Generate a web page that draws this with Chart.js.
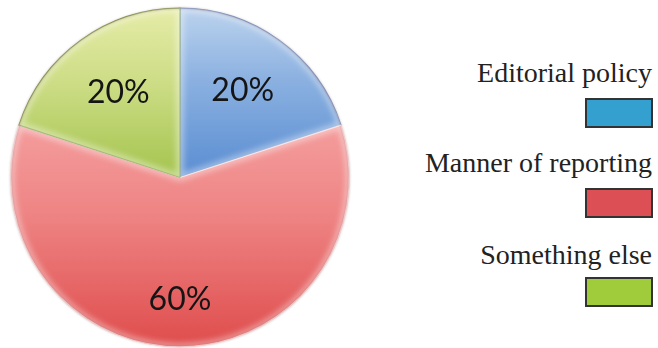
<!DOCTYPE html>
<html>
<head>
<meta charset="utf-8">
<script src="https://cdn.jsdelivr.net/npm/chart.js@4/dist/chart.umd.min.js"></script>
<style>
  html, body { margin: 0; padding: 0; background: #fff; }
  #wrap { position: relative; width: 658px; height: 348px; overflow: hidden; }
  #pieBox { position: absolute; left: 0; top: 0; width: 360px; height: 348px; }
  #legend { position: absolute; right: 5px; top: 0; width: 280px; height: 348px; font-family: "Liberation Serif", serif; color: #222; }
  .lbl { position: absolute; right: 1px; font-size: 28px; line-height: 28px; white-space: nowrap; }
  .sw { position: absolute; right: 0; width: 64px; height: 26px; border: 2px solid #333; }
</style>
</head>
<body>
<div id="wrap">
  <div id="pieBox"><canvas id="pie"></canvas></div>
  <div id="legend"></div>
</div>
<script>
// Survey answers
const categories = ["Editorial policy", "Manner of reporting", "Something else"];
const shares = [20, 60, 20];

// Slice shading stops [position down the pie, colour] and legend swatch colours
const sliceStops = [
  [[0, "#bcd3ee"], [0.22, "#8ab0e0"], [0.5, "#5a8dd2"], [1, "#4a7cc4"]],
  [[0, "#f8b4b4"], [0.35, "#f49c9c"], [0.6, "#ef8585"], [1, "#df4c4c"]],
  [[0, "#e6eca8"], [0.22, "#cddd86"], [0.5, "#a4c44e"], [1, "#94b440"]]
];
const swatchColors = ["#33a0d0", "#dc5055", "#a0cc3c"];

const total = shares.reduce((a, b) => a + b, 0);

function sliceFill(ctx) {
  const chart = ctx.chart;
  const area = chart.chartArea;
  const stops = sliceStops[ctx.dataIndex];
  if (!area) return stops[2][1];
  const g = chart.ctx.createLinearGradient(0, area.top, 0, area.bottom);
  stops.forEach(([p, c]) => g.addColorStop(p, c));
  return g;
}

function arcPath(ctx, p) {
  ctx.beginPath();
  ctx.moveTo(p.x, p.y);
  ctx.arc(p.x, p.y, p.outerRadius, p.startAngle, p.endAngle);
  ctx.closePath();
}

// Soft inner highlight along each slice's edges, for a bevelled look
const sliceBevel = {
  id: "sliceBevel",
  afterDatasetsDraw(chart) {
    const { ctx } = chart;
    const meta = chart.getDatasetMeta(0);
    meta.data.forEach((arc) => {
      const p = arc.getProps(["x", "y", "startAngle", "endAngle", "outerRadius"], true);
      ctx.save();
      arcPath(ctx, p);
      ctx.clip();
      ctx.filter = "blur(3px)";
      ctx.strokeStyle = "rgba(255,255,255,0.45)";
      ctx.lineWidth = 7;
      arcPath(ctx, p);
      ctx.stroke();
      ctx.restore();
    });
    // faint darker outer rim
    const p0 = meta.data[0].getProps(["x", "y", "outerRadius"], true);
    ctx.save();
    ctx.filter = "blur(0.8px)";
    ctx.strokeStyle = "rgba(120,60,60,0.35)";
    ctx.lineWidth = 1.2;
    ctx.beginPath();
    ctx.arc(p0.x, p0.y, p0.outerRadius, 0, Math.PI * 2);
    ctx.stroke();
    ctx.restore();
  }
};

// Percent labels inside each slice
const sliceLabels = {
  id: "sliceLabels",
  afterDatasetsDraw(chart, args, opts) {
    const { ctx } = chart;
    const meta = chart.getDatasetMeta(0);
    ctx.save();
    ctx.font = opts.font;
    ctx.fillStyle = opts.color;
    ctx.textAlign = "center";
    ctx.textBaseline = "middle";
    meta.data.forEach((arc, i) => {
      const p = arc.getProps(["x", "y", "startAngle", "endAngle", "outerRadius"], true);
      const mid = (p.startAngle + p.endAngle) / 2;
      const r = p.outerRadius * opts.radius[i];
      const text = Math.round(shares[i] / total * 100) + "%";
      ctx.fillText(text, p.x + Math.cos(mid) * r, p.y + Math.sin(mid) * r);
    });
    ctx.restore();
  }
};

const chart = new Chart(document.getElementById("pie"), {
  type: "pie",
  data: {
    labels: categories,
    datasets: [{
      data: shares,
      backgroundColor: sliceFill,
      borderColor: ["rgba(90,130,190,0.7)", "rgba(255,225,225,0.9)", "rgba(110,140,50,0.8)"],
      borderWidth: 1.2
    }]
  },
  options: {
    responsive: true,
    maintainAspectRatio: false,
    animation: false,
    layout: { padding: { left: 10, right: 10, top: 7, bottom: 0 } },
    plugins: {
      legend: { display: false },
      tooltip: { enabled: false },
      sliceLabels: { font: "32px Lato, 'Liberation Sans', sans-serif", color: "#151515", radius: [0.63, 0.72, 0.62] }
    }
  },
  plugins: [sliceBevel, sliceLabels]
});

// Legend: label above a framed colour swatch
const labelTops = [59, 149, 241];
const swatchTops = [98, 188, 277];
const legend = document.getElementById("legend");
categories.forEach((name, i) => {
  const lbl = document.createElement("div");
  lbl.className = "lbl";
  lbl.style.top = labelTops[i] + "px";
  lbl.textContent = name;
  const sw = document.createElement("div");
  sw.className = "sw";
  sw.style.top = swatchTops[i] + "px";
  sw.style.background = swatchColors[i];
  legend.appendChild(lbl);
  legend.appendChild(sw);
});
</script>
</body>
</html>
